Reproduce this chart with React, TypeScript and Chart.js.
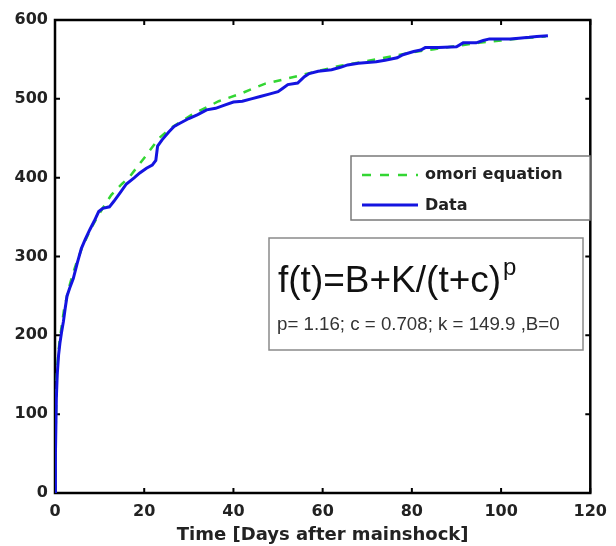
import React, { useEffect, useRef } from "react";
import { Chart, registerables } from "chart.js";

Chart.register(...registerables);

// Observed cumulative aftershock count (blue line)
const dataDays = [0, 0.1, 0.3, 0.5, 0.8, 1.1, 1.5, 1.9, 2.3, 2.7, 3.3, 4.1, 5.0, 5.9, 6.8, 7.8, 8.8, 9.8, 10.7, 12.2, 13.2, 14.5, 16, 17.8, 19, 20.5, 21.8, 22.6, 23.0, 24, 25.5, 26.7, 28, 30, 32, 34, 36, 38, 40, 42, 44, 46, 48, 50, 51, 52.2, 54.4, 55.9, 57, 59, 62, 64, 65.6, 68, 72, 74, 76.7, 78, 80.4, 82, 83, 86, 90, 91.5, 94.4, 96, 97.4, 102, 104, 106.3, 108, 110.5];
const dataCount = [0, 50, 120, 150, 175, 190, 205, 218, 235, 250, 260, 272, 292, 310, 322, 334, 345, 357, 361, 363, 370, 380, 392, 400, 406, 412, 416, 422, 440, 448, 458, 465, 469, 475, 480, 486, 488, 492, 496, 497, 500, 503, 506, 509, 513, 518, 520, 528, 532, 535, 537, 540, 543, 545, 547, 549, 552, 556, 560, 562, 565, 565, 566, 571, 571, 574, 576, 576, 577, 578, 579, 580];

// Omori equation fit (green dashed line)
const omoriDays = [0, 0.1, 0.3, 0.5, 1, 2, 3, 4, 5, 6, 8, 10, 12.6, 15, 16.7, 20, 23.3, 26, 30.7, 36.7, 41.8, 47, 53, 58, 64, 70, 75.6, 80, 85, 90, 95, 100, 105, 110];
const omoriCount = [0, 60, 130, 160, 192, 232, 258, 278, 295, 310, 335, 355, 378, 392, 401, 425, 450, 463, 480, 497, 507, 519, 527, 534, 542, 548, 554, 559, 563, 567, 571, 574, 577, 579];

const xTicks = [0, 20, 40, 60, 80, 100, 120];
const yTicks = [0, 100, 200, 300, 400, 500, 600];

const legendLabels = ["omori equation", "Data"];
const formulaText = "f(t)=B+K/(t+c)";
const formulaExp = "p";
const paramText = "p= 1.16; c = 0.708; k = 149.9 ,B=0";
const xTitle = "Time [Days after mainshock]";

const BLUE = "#1414e0";
const GREEN = "#33d633";

const framePlugin = {
  id: "frame",
  beforeDatasetsDraw(chart: any) {
    const { ctx, chartArea: a, scales } = chart;
    ctx.save();
    ctx.strokeStyle = "#000";
    ctx.lineWidth = 2;
    const tl = 5;
    ctx.beginPath();
    for (const v of xTicks) {
      const px = scales.x.getPixelForValue(v);
      ctx.moveTo(px, a.bottom);
      ctx.lineTo(px, a.bottom - tl);
      ctx.moveTo(px, a.top);
      ctx.lineTo(px, a.top + tl);
    }
    for (const v of yTicks) {
      const py = scales.y.getPixelForValue(v);
      ctx.moveTo(a.left, py);
      ctx.lineTo(a.left + tl, py);
      ctx.moveTo(a.right, py);
      ctx.lineTo(a.right - tl, py);
    }
    ctx.stroke();
    ctx.lineWidth = 2.5;
    ctx.strokeRect(a.left, a.top, a.right - a.left, a.bottom - a.top);
    ctx.restore();
  },
  afterDraw(chart: any) {
    const { ctx } = chart;
    ctx.save();
    // Legend box
    ctx.fillStyle = "#fff";
    ctx.fillRect(351, 156, 239, 64);
    ctx.strokeStyle = "#7a7a7a";
    ctx.lineWidth = 1.5;
    ctx.strokeRect(351, 156, 239, 64);
    ctx.lineWidth = 2.5;
    ctx.strokeStyle = GREEN;
    ctx.setLineDash([9, 9]);
    ctx.beginPath();
    ctx.moveTo(362, 175);
    ctx.lineTo(418, 175);
    ctx.stroke();
    ctx.setLineDash([]);
    ctx.strokeStyle = BLUE;
    ctx.lineWidth = 3;
    ctx.beginPath();
    ctx.moveTo(362, 205);
    ctx.lineTo(418, 205);
    ctx.stroke();
    ctx.fillStyle = "#222";
    ctx.font = "bold 16px 'DejaVu Sans'";
    ctx.textBaseline = "middle";
    ctx.textAlign = "left";
    ctx.fillText(legendLabels[0], 425, 175);
    ctx.fillText(legendLabels[1], 425, 206);

    // Formula box
    ctx.fillStyle = "#fff";
    ctx.fillRect(269, 238, 314, 112);
    ctx.strokeStyle = "#8a8a8a";
    ctx.lineWidth = 1.5;
    ctx.strokeRect(269, 238, 314, 112);
    ctx.fillStyle = "#111";
    ctx.textBaseline = "alphabetic";
    ctx.font = "37px 'Liberation Sans'";
    ctx.fillText(formulaText, 278, 292);
    const w = ctx.measureText(formulaText).width;
    ctx.font = "24px 'Liberation Sans'";
    ctx.fillText(formulaExp, 278 + w + 2, 275);
    ctx.fillStyle = "#333";
    ctx.font = "18.7px 'Liberation Sans'";
    ctx.fillText(paramText, 277, 330);
    ctx.restore();
  },
};

export default function App() {
  const ref = useRef<HTMLCanvasElement>(null);
  useEffect(() => {
    if (!ref.current) return;
    const chart = new Chart(ref.current, {
      type: "line",
      data: {
        datasets: [
          {
            label: legendLabels[1],
            data: dataDays.map((d, i) => ({ x: d, y: dataCount[i] })),
            borderColor: BLUE,
            borderWidth: 3,
            pointRadius: 0,
            tension: 0,
          },
          {
            label: legendLabels[0],
            data: omoriDays.map((d, i) => ({ x: d, y: omoriCount[i] })),
            borderColor: GREEN,
            borderWidth: 2.5,
            borderDash: [8, 8],
            pointRadius: 0,
            tension: 0,
          },
        ],
      },
      options: {
        responsive: false,
        animation: false,
        layout: { padding: { top: 20, right: 21, left: 0, bottom: 0 } },
        plugins: { legend: { display: false }, tooltip: { enabled: false } },
        scales: {
          x: {
            type: "linear",
            min: 0,
            max: 120,
            afterBuildTicks: (s: any) => {
              s.ticks = xTicks.map((v) => ({ value: v }));
            },
            afterFit: (s: any) => {
              s.height = 53;
            },
            grid: { display: false, drawTicks: false },
            border: { display: false },
            ticks: {
              font: { family: "'DejaVu Sans'", size: 16, weight: "bold" },
              color: "#222",
              padding: 9,
              maxRotation: 0,
            },
            title: {
              display: true,
              text: xTitle,
              font: { family: "'DejaVu Sans'", size: 18, weight: "bold" },
              color: "#222",
              padding: { top: 0, bottom: 0 },
            },
          },
          y: {
            type: "linear",
            min: 0,
            max: 600,
            afterBuildTicks: (s: any) => {
              s.ticks = yTicks.map((v) => ({ value: v }));
            },
            afterFit: (s: any) => {
              s.width = 55;
            },
            grid: { display: false, drawTicks: false },
            border: { display: false },
            ticks: {
              font: { family: "'DejaVu Sans'", size: 16, weight: "bold" },
              color: "#222",
              padding: 7,
            },
          },
        },
      },
      plugins: [framePlugin],
    } as any);
    return () => chart.destroy();
  }, []);
  return (
    <div style={{ position: "absolute", left: 0, top: 0, width: 616, height: 546, background: "#fff" }}>
      <canvas ref={ref} width={616} height={546} />
    </div>
  );
}
